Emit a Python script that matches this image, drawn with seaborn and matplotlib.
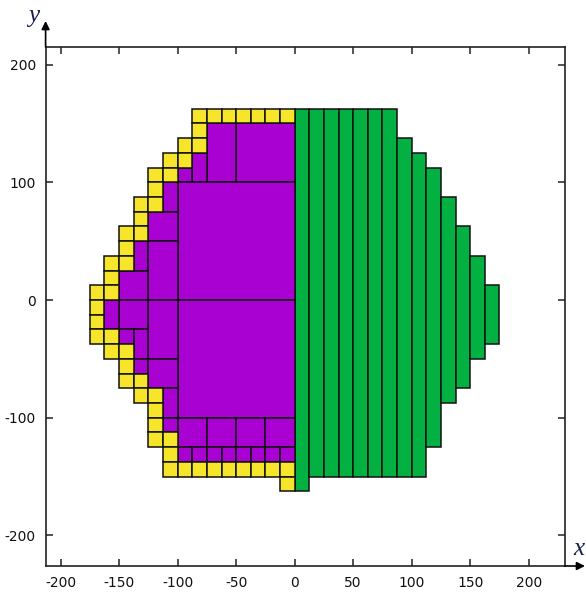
import matplotlib
matplotlib.use("Agg")
import matplotlib.pyplot as plt
import seaborn as sns

# ---------------- data (x / y in data units) ----------------
green_left = [0, 12.5, 25, 37.5, 50, 62.5, 75, 87.5, 100, 112.5, 125, 137.5, 150, 162.5]
green_top = [162.5, 162.5, 162.5, 162.5, 162.5, 162.5, 162.5, 137.5, 125, 112.5, 87.5, 62.5, 37.5, 12.5]
green_bottom = [-162.5, -150, -150, -150, -150, -150, -150, -150, -150, -125, -87.5, -75, -50, -37.5]

purple_left = [-50, -75, -87.5, -100, -100, -112.5, -125, -137.5, -125, -150,
               -100, -125, -150, -162.5, -150, -137.5, -137.5, -125, -112.5, -112.5,
               -100, -75, -50, -25,
               -100, -87.5, -75, -62.5, -50, -37.5, -25, -12.5]
purple_bottom = [100, 100, 100, 100, 0, 75, 50, 25, 0, 0,
                 -100, -50, -25, -25, -37.5, -50, -62.5, -75, -100, -112.5,
                 -125, -125, -125, -125,
                 -137.5, -137.5, -137.5, -137.5, -137.5, -137.5, -137.5, -137.5]
purple_width = [50, 25, 12.5, 12.5, 100, 12.5, 25, 12.5, 25, 25,
                100, 25, 25, 12.5, 12.5, 12.5, 12.5, 25, 12.5, 12.5,
                25, 25, 25, 25,
                12.5, 12.5, 12.5, 12.5, 12.5, 12.5, 12.5, 12.5]
purple_height = [50, 50, 25, 12.5, 100, 25, 25, 25, 50, 25,
                 100, 50, 25, 25, 12.5, 25, 12.5, 25, 25, 12.5,
                 25, 25, 25, 25,
                 12.5, 12.5, 12.5, 12.5, 12.5, 12.5, 12.5, 12.5]

yellow_left = [-87.5, -75, -62.5, -50, -37.5, -25, -12.5,
               -87.5,
               -100, -87.5,
               -112.5, -100,
               -125, -112.5,
               -125,
               -137.5, -125,
               -137.5,
               -150, -137.5,
               -150,
               -162.5, -150,
               -162.5,
               -175, -162.5,
               -175,
               -175,
               -175, -162.5,
               -162.5, -150,
               -150,
               -150, -137.5,
               -137.5, -125,
               -125,
               -125,
               -125, -112.5,
               -112.5,
               -112.5, -100, -87.5, -75, -62.5, -50, -37.5, -25, -12.5,
               -12.5]
yellow_bottom = [150, 150, 150, 150, 150, 150, 150,
                 137.5,
                 125, 125,
                 112.5, 112.5,
                 100, 100,
                 87.5,
                 75, 75,
                 62.5,
                 50, 50,
                 37.5,
                 25, 25,
                 12.5,
                 0, 0,
                 -12.5,
                 -25,
                 -37.5, -37.5,
                 -50, -50,
                 -62.5,
                 -75, -75,
                 -87.5, -87.5,
                 -100,
                 -112.5,
                 -125, -125,
                 -137.5,
                 -150, -150, -150, -150, -150, -150, -150, -150, -150,
                 -162.5]
yellow_size = 12.5

x_ticks = [-200, -150, -100, -50, 0, 50, 100, 150, 200]
x_tick_labels = ["-200", "-150", "-100", "-50", "0", "50", "100", "150", "200"]
y_ticks = [-200, -100, 0, 100, 200]
y_tick_labels = ["-200", "-100", "0", "100", "200"]

# ---------------- style ----------------
sns.set_theme(style="ticks")
plt.rcParams["font.family"] = ["DejaVu Sans"]

W, H = 586, 596
fig = plt.figure(figsize=(W / 100, H / 100), dpi=100)
ax = fig.add_axes([45.6 / W, 1 - 566 / H, (565 - 45.6) / W, (566 - 47) / H])

yellow = "#F6E52B"
purple = "#A901D2"
green = "#03B142"
edge = "#111111"
lw = 1.1

ax.bar(green_left, [t - b for t, b in zip(green_top, green_bottom)], width=12.5,
       bottom=green_bottom, align="edge", color=green, edgecolor=edge, linewidth=lw)
ax.bar(purple_left, purple_height, width=purple_width, bottom=purple_bottom,
       align="edge", color=purple, edgecolor=edge, linewidth=lw)
ax.bar(yellow_left, [yellow_size] * len(yellow_left), width=yellow_size,
       bottom=yellow_bottom, align="edge", color=yellow, edgecolor=edge, linewidth=lw)

ax.set_xlim(-212.8, 231)
ax.set_ylim(-226, 215)

ax.set_xticks(x_ticks)
ax.set_xticklabels(x_tick_labels)
ax.set_yticks(y_ticks)
ax.set_yticklabels(y_tick_labels)
ax.tick_params(axis="both", which="both", direction="in", length=5, width=1.1,
               color="#222222", labelsize=10, labelcolor="#111111",
               top=True, right=True, pad=7)
ax.grid(False)
for s in ax.spines.values():
    s.set_visible(True)
    s.set_color("#222222")
    s.set_linewidth(1.2)

# axis arrows
ax.annotate("", xy=(0, 1 + 26 / 519), xytext=(0, 1), xycoords="axes fraction",
            arrowprops=dict(arrowstyle="-|>", color="black", lw=1.2, mutation_scale=12,
                            shrinkA=0, shrinkB=0))
ax.annotate("", xy=(1 + 20 / 519, 0), xytext=(1, 0), xycoords="axes fraction",
            arrowprops=dict(arrowstyle="-|>", color="black", lw=1.2, mutation_scale=12,
                            shrinkA=0, shrinkB=0))
fig.text(34 / W, 1 - 16 / H, "y", fontsize=18, style="italic",
         family=["Liberation Serif", "DejaVu Serif"], color="#1a1f4a",
         ha="center", va="center")
fig.text(579 / W, 1 - 549 / H, "x", fontsize=18, style="italic",
         family=["Liberation Serif", "DejaVu Serif"], color="#1a1f4a",
         ha="center", va="center")

fig.savefig("out.png", dpi=100)
